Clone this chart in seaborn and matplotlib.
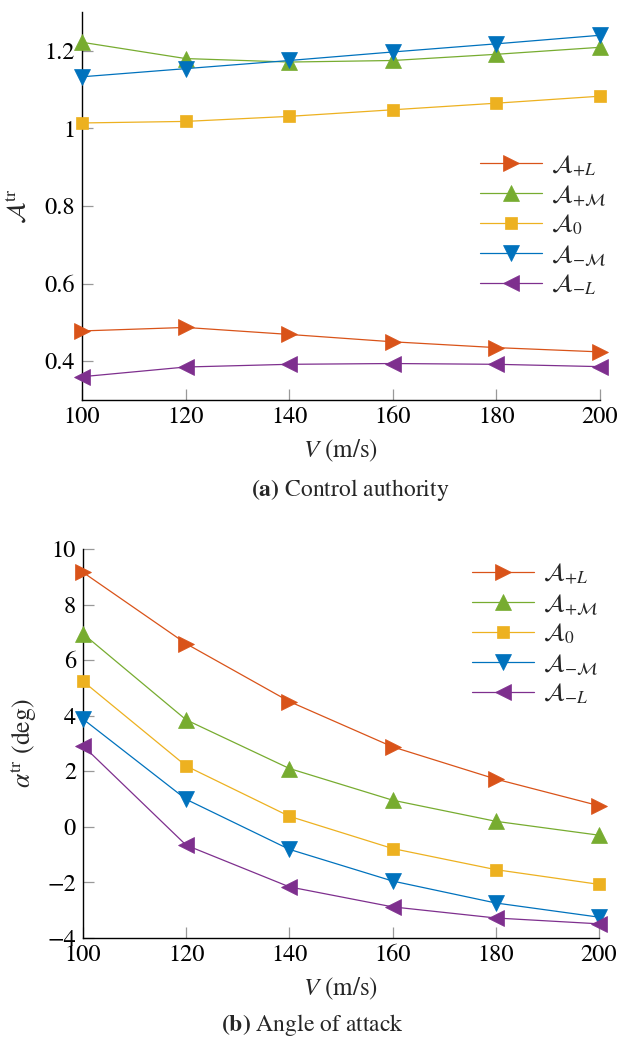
import numpy as np
import pandas as pd
import matplotlib
matplotlib.use("Agg")
import matplotlib.pyplot as plt
import seaborn as sns
from matplotlib.ticker import FuncFormatter

V = [100, 120, 140, 160, 180, 200]
series_names = ["+L", "+M", "0", "-M", "-L"]
labels = [r"$\mathcal{A}_{+L}$", r"$\mathcal{A}_{+\mathcal{M}}$", r"$\mathcal{A}_{0}$",
          r"$\mathcal{A}_{-\mathcal{M}}$", r"$\mathcal{A}_{-L}$"]

auth_pL = [0.478, 0.487, 0.469, 0.450, 0.435, 0.424]
auth_pM = [1.222, 1.180, 1.171, 1.175, 1.191, 1.209]
auth_0 = [1.014, 1.018, 1.031, 1.048, 1.065, 1.083]
auth_mM = [1.133, 1.154, 1.175, 1.197, 1.218, 1.240]
auth_mL = [0.360, 0.385, 0.392, 0.394, 0.392, 0.386]

aoa_pL = [9.16, 6.59, 4.51, 2.88, 1.72, 0.76]
aoa_pM = [6.95, 3.85, 2.10, 0.96, 0.20, -0.30]
aoa_0 = [5.24, 2.19, 0.38, -0.78, -1.54, -2.07]
aoa_mM = [3.88, 0.99, -0.81, -1.95, -2.74, -3.25]
aoa_mL = [2.92, -0.66, -2.16, -2.88, -3.28, -3.49]

colors = ["#D95319", "#77AC30", "#EDB120", "#0072BD", "#7E2F8E"]
markers = [">", "^", "s", "v", "<"]
msizes = [11, 11, 8.5, 11, 11]

sns.set_theme(style="white")
plt.rcParams["font.family"] = ["STIXGeneral", "DejaVu Sans"]
plt.rcParams["mathtext.fontset"] = "stix"

fig = plt.figure(figsize=(6.17, 10.4), dpi=100)
ax1 = fig.add_axes([82/617, 1-400/1040, 518/617, 388/1040])
ax2 = fig.add_axes([83/617, 1-938/1040, 516/617, 389/1040])

def draw(ax, data_lists, ylim, yticks, legend_anchor):
    for name, lab, vals, c, m, ms in zip(series_names, labels, data_lists, colors, markers, msizes):
        df = pd.DataFrame({"V": V, "y": vals})
        sns.lineplot(data=df, x="V", y="y", ax=ax, color=c, marker=m, markersize=ms,
                     markeredgecolor=c, markeredgewidth=0.5, linewidth=0.9, label=lab,
                     clip_on=False, zorder=3)
    ax.set_xlim(100, 200)
    ax.set_ylim(*ylim)
    ax.set_xticks([100, 120, 140, 160, 180, 200])
    ax.set_yticks(yticks)
    ax.yaxis.set_major_formatter(FuncFormatter(lambda v, p: f"{v:g}".replace("-", "\u2212")))
    for s in ["top", "right"]:
        ax.spines[s].set_visible(False)
    for s in ["left", "bottom"]:
        ax.spines[s].set_color("black")
        ax.spines[s].set_linewidth(1.0)
    ax.tick_params(axis="both", direction="in", length=8, width=0.9, color="#999999",
                   labelsize=17.5, labelcolor="black", pad=5, left=True, bottom=True)
    leg = ax.legend(loc="center left", bbox_to_anchor=legend_anchor, frameon=False,
                    fontsize=18, handlelength=2.5, handletextpad=0.35, labelspacing=0.22,
                    borderpad=0, borderaxespad=0)
    ax.set_xlabel(r"$V$ (m/s)", fontsize=18, labelpad=7)

draw(ax1, [auth_pL, auth_pM, auth_0, auth_mM, auth_mL], (0.3, 1.3),
     [0.4, 0.6, 0.8, 1.0, 1.2], (0.768, 0.45))
ax1.set_ylabel(r"$\mathcal{A}^{\mathrm{tr}}$", fontsize=18.5)
ax1.yaxis.set_label_coords(-0.098, 0.5)

draw(ax2, [aoa_pL, aoa_pM, aoa_0, aoa_mM, aoa_mL], (-4, 10),
     [-4, -2, 0, 2, 4, 6, 8, 10], (0.753, 0.781))
ax2.set_ylabel(r"$\alpha^{\mathrm{tr}}$ (deg)", fontsize=18.5)
ax2.yaxis.set_label_coords(-0.085, 0.5)

fig.text(350/617, 1-490/1040, r"$\mathbf{(a)}$ Control authority", ha="center", va="center", fontsize=17)
fig.text(312/617, 1-1025/1040, r"$\mathbf{(b)}$ Angle of attack", ha="center", va="center", fontsize=17)

fig.savefig("out.png", dpi=100)
